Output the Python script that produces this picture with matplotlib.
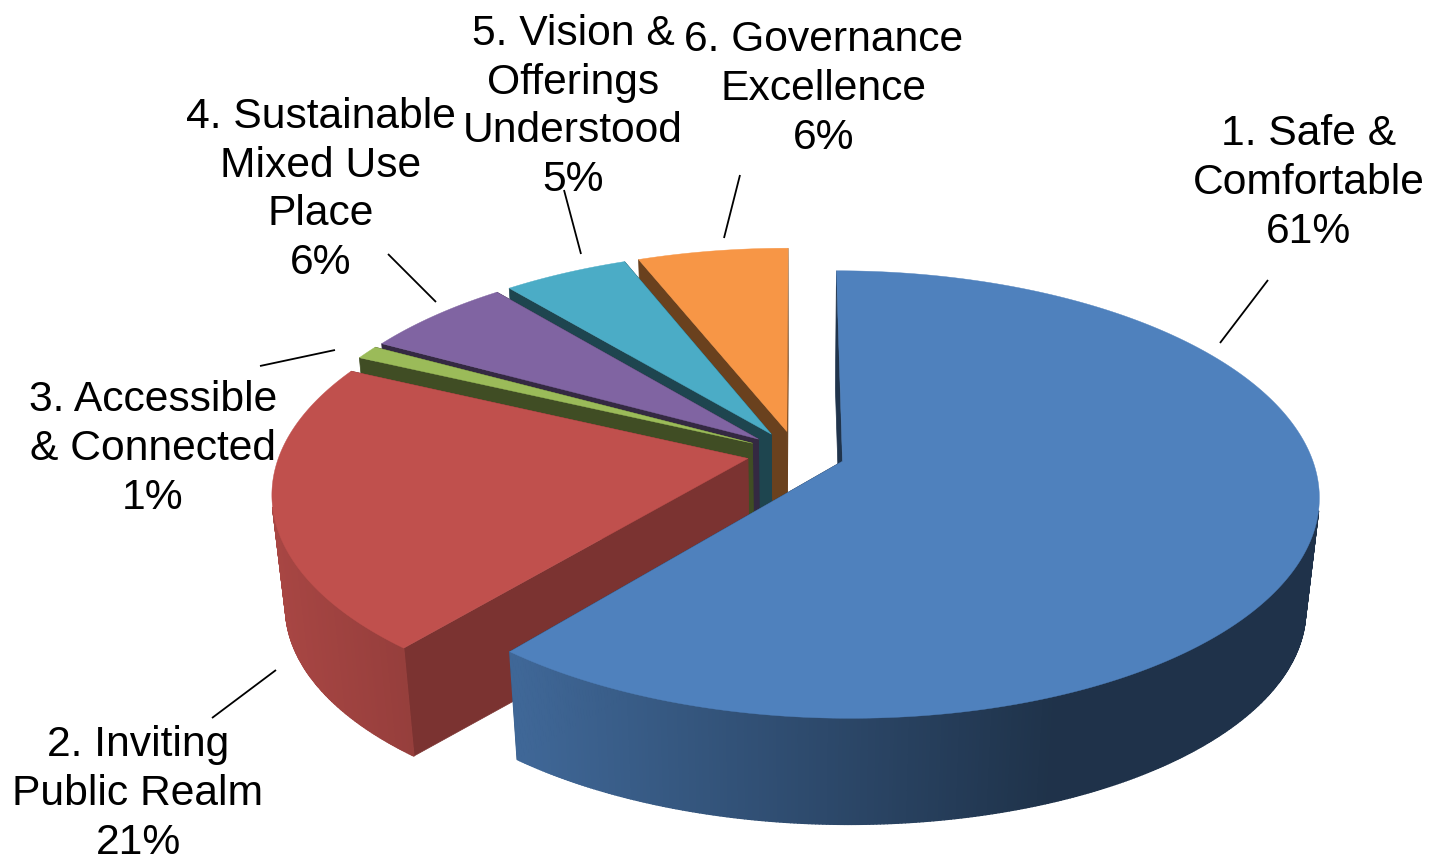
import numpy as np
import matplotlib
matplotlib.use('Agg')
import matplotlib.pyplot as plt
from matplotlib.collections import PolyCollection
from matplotlib.colors import to_rgb

plt.rcParams['font.family'] = ['Liberation Sans', 'DejaVu Sans']

names = ['1. Safe &\nComfortable', '2. Inviting\nPublic Realm', '3. Accessible\n& Connected',
         '4. Sustainable\nMixed Use\nPlace', '5. Vision &\nOfferings\nUnderstood', '6. Governance\nExcellence']
values = [61, 21, 1, 6, 5, 6]
colors = ['#4f81bd', '#c0504d', '#9bbb59', '#8064a2', '#4bacc6', '#f79646']
face_shade = [0.40, 0.64, 0.41, 0.41, 0.40, 0.43]

label_pos = [(1309, 183), (138, 794), (153, 449), (321, 190), (573, 107), (824, 89)]
leaders = [((1268, 280), (1220, 343)), ((276, 670), (212, 718)), ((335, 350), (260, 366)),
           ((388, 254), (436, 302)), ((564, 190), (581, 254)), ((740, 175), (724, 238))]

# camera set-up for the tilted disc
CX, CY = 796, 453.5
SCALE_X, SCALE_Y = 468, 216.5
PERSP = 0.148
EXPLODE = 0.105
NADIR = (796, 4800)
BOTTOM = 0.974
FOOT_Y = -5.13  # point on the disc plane right under the camera


def project(x, y, low=False):
    w = 1 + PERSP * y
    u = CX + SCALE_X * x / w
    v = CY - SCALE_Y * y / w
    if low:
        u = NADIR[0] + BOTTOM * (u - NADIR[0])
        v = NADIR[1] + BOTTOM * (v - NADIR[1])
    return np.column_stack([u, v])


def side_shade(x):
    return np.interp(x, [270, 410, 520, 1050, 1320], [0.88, 0.78, 0.80, 0.39, 0.39])


def shaded(color, k):
    return tuple(c * k for c in to_rgb(color))


fig = plt.figure(figsize=(14.32, 8.64), dpi=100)
ax = fig.add_axes([0, 0, 1, 1])
ax.set_xlim(0, 1432)
ax.set_ylim(864, 0)
ax.axis('off')

edges = np.cumsum([0] + values) / sum(values) * 2 * np.pi

# far slices first so the nearer ones paint over them
for i in [5, 4, 3, 2, 1, 0]:
    a0, a1 = edges[i], edges[i + 1]
    mid = (a0 + a1) / 2
    ox, oy = EXPLODE * np.sin(mid), EXPLODE * np.cos(mid)
    t = np.linspace(a0, a1, max(int((a1 - a0) * 150), 8))
    rim_x, rim_y = ox + np.sin(t), oy + np.cos(t)

    top_rim = project(rim_x, rim_y)
    low_rim = project(rim_x, rim_y, low=True)
    apex_top = project(np.array([ox]), np.array([oy]))
    apex_low = project(np.array([ox]), np.array([oy]), low=True)

    # cut faces
    face = shaded(colors[i], face_shade[i])
    for j in [-1, 0]:
        quad = np.vstack([apex_top, top_rim[j], low_rim[j], apex_low])
        ax.fill(quad[:, 0], quad[:, 1], color=face, lw=0.5)

    # outer wall, one narrow strip per step, only where it faces the camera
    facing = rim_x * np.sin(t) + (rim_y - FOOT_Y) * np.cos(t) < 0
    quads = [np.array([top_rim[k], top_rim[k + 1], low_rim[k + 1], low_rim[k]])
             for k in range(len(t) - 1) if facing[k] and facing[k + 1]]
    if quads:
        wall = [shaded(colors[i], side_shade(q[:, 0].mean())) for q in quads]
        ax.add_collection(PolyCollection(quads, facecolors=wall, edgecolors='face', linewidths=1.0))

    # top surface
    top = np.vstack([apex_top, top_rim])
    ax.fill(top[:, 0], top[:, 1], color=colors[i], lw=0.3)

for (x0, y0), (x1, y1) in leaders:
    ax.plot([x0, x1], [y0, y1], color='black', lw=1.3, solid_capstyle='butt')

for name, val, (x, y) in zip(names, values, label_pos):
    ax.text(x, y, f'{name}\n{val}%', ha='center', va='center', fontsize=30.7,
            linespacing=1.29, color='black', clip_on=False)

fig.savefig('out.png', dpi=100)
